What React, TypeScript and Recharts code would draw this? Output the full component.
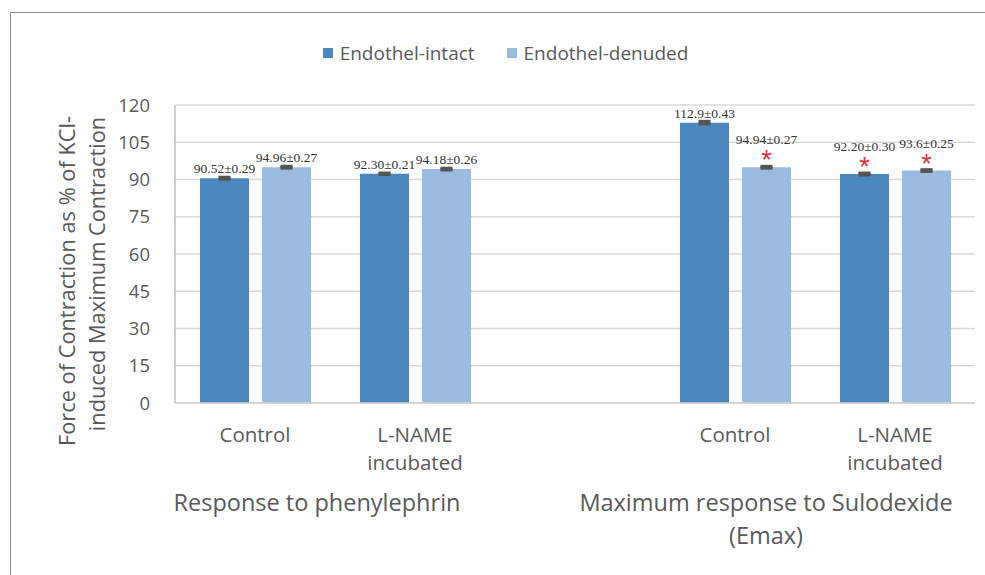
import React from "react";
import { BarChart, Bar, XAxis, YAxis, CartesianGrid, ErrorBar, LabelList, Legend } from "recharts";

const categories = ["Control", "L-NAME\nincubated", "", "Control", "L-NAME\nincubated"];
const groupLabels = ["Response to phenylephrin", "", "", "Maximum response to Sulodexide\n(Emax)", ""];
const intactValues = [90.52, 92.3, null, 112.9, 92.2];
const intactErrors = [0.29, 0.21, null, 0.43, 0.3];
const intactLabels = ["90.52±0.29", "92.30±0.21", null, "112.9±0.43", "92.20±0.30"];
const intactSig = [false, false, false, false, true];
const denudedValues = [94.96, 94.18, null, 94.94, 93.6];
const denudedErrors = [0.27, 0.26, null, 0.27, 0.25];
const denudedLabels = ["94.96±0.27", "94.18±0.26", null, "94.94±0.27", "93.6±0.25"];
const denudedSig = [false, false, false, true, true];
const yTicks = [0, 15, 30, 45, 60, 75, 90, 105, 120];

const INTACT = "#4a88bf";
const DENUDED = "#9abae0";
const TEXT = "#595959";
const SANS = "'Open Sans', 'Noto Sans', sans-serif";

const data = categories.map((c, i) => ({
  cat: c,
  intact: intactValues[i],
  intactErr: intactErrors[i],
  intactLabel: intactLabels[i],
  denuded: denudedValues[i],
  denudedErr: denudedErrors[i],
  denudedLabel: denudedLabels[i],
}));

const groupOffsets = [62, 0, 0, 31, 0];

const XTick = (props: any) => {
  const { x, y, payload, index } = props;
  const lines = String(payload.value).split("\n");
  const g = groupLabels[index] ? groupLabels[index].split("\n") : [];
  return (
    <g>
      {lines.map((l, i) => (
        <text key={i} x={x} y={y + 31 + i * 28} textAnchor="middle" fill={TEXT} fontFamily={SANS} fontSize={20.5}>
          {l}
        </text>
      ))}
      {g.map((l, i) => (
        <text key={"g" + i} x={x + groupOffsets[index]} y={y + 100 + i * 33} textAnchor="middle" fill={TEXT} fontFamily={SANS} fontSize={23.5}>
          {l}
        </text>
      ))}
    </g>
  );
};

const makeLabel = (labels: (string | null)[], sig: boolean[]) => (props: any) => {
  const { x, y, width, value } = props;
  if (value == null || value === "") return null;
  const idx = labels.indexOf(String(value));
  const cx = x + width / 2;
  const s = idx >= 0 && sig[idx];
  return (
    <g>
      <text x={cx} y={y - (s ? 23 : 5)} textAnchor="middle" fill="#333" fontFamily="'Liberation Serif', 'DejaVu Serif', serif" fontSize={13.5}>
        {String(value)}
      </text>
      {s && (
        <text x={cx} y={y + 2} textAnchor="middle" fill="#e0303a" fontFamily="'Liberation Sans', sans-serif" fontSize={27}>
          *
        </text>
      )}
    </g>
  );
};

const YLabel = () => (
  <g>
    <text x={0} y={0} transform="translate(75, 281) rotate(-90)" textAnchor="middle" fill={TEXT} fontFamily={SANS} fontSize={21.8}>
      Force of Contraction as % of KCl-
    </text>
    <text x={0} y={0} transform="translate(105, 274) rotate(-90)" textAnchor="middle" fill={TEXT} fontFamily={SANS} fontSize={21.8}>
      induced Maximum Contraction
    </text>
  </g>
);

const LegendContent = () => (
  <div style={{ display: "flex", justifyContent: "center", fontFamily: SANS, fontSize: 19, color: TEXT, paddingLeft: 26, lineHeight: "24px" }}>
    <span style={{ display: "flex", alignItems: "center", marginRight: 32 }}>
      <span style={{ width: 10, height: 10, background: INTACT, display: "inline-block", marginRight: 7 }} />
      Endothel-intact
    </span>
    <span style={{ display: "flex", alignItems: "center" }}>
      <span style={{ width: 10, height: 10, background: DENUDED, display: "inline-block", marginRight: 7 }} />
      Endothel-denuded
    </span>
  </div>
);

export default function App() {
  return (
    <div style={{ position: "absolute", left: 0, top: 0, width: 985, height: 575, background: "#fff" }}>
      <div style={{ position: "absolute", left: 10, top: 12, width: 975, height: 563, borderTop: "1.5px solid #8a8a8a", borderLeft: "1.5px solid #8a8a8a", boxSizing: "border-box" }} />
      <BarChart
        width={985}
        height={575}
        data={data}
        margin={{ top: 81, right: 10, left: 0, bottom: 0 }}
        barSize={49}
        barGap={13}
        style={{ position: "absolute", left: 0, top: 0 }}
      >
        <CartesianGrid vertical={false} stroke="#d9d9d9" strokeWidth={1.5} />
        <Legend verticalAlign="top" align="center" content={<LegendContent />} wrapperStyle={{ top: 41, left: 0, width: 985 }} />
        <XAxis dataKey="cat" tickLine={false} axisLine={{ stroke: "#d0d0d0", strokeWidth: 1.5 }} tick={<XTick />} interval={0} height={172} />
        <YAxis
          domain={[0, 120]}
          ticks={yTicks}
          interval={0}
          width={175}
          tickLine={false}
          axisLine={{ stroke: "#bfbfbf", strokeWidth: 1.5 }}
          tick={{ fill: TEXT, fontFamily: SANS, fontSize: 18.5 }}
          tickMargin={19}
          label={<YLabel />}
        />
        <Bar dataKey="intact" fill={INTACT} isAnimationActive={false}>
          <ErrorBar dataKey="intactErr" width={6} stroke="#555" strokeWidth={3.5} />
          <LabelList dataKey="intactLabel" content={makeLabel(intactLabels, intactSig)} />
        </Bar>
        <Bar dataKey="denuded" fill={DENUDED} isAnimationActive={false}>
          <ErrorBar dataKey="denudedErr" width={6} stroke="#555" strokeWidth={3.5} />
          <LabelList dataKey="denudedLabel" content={makeLabel(denudedLabels, denudedSig)} />
        </Bar>
      </BarChart>
    </div>
  );
}
